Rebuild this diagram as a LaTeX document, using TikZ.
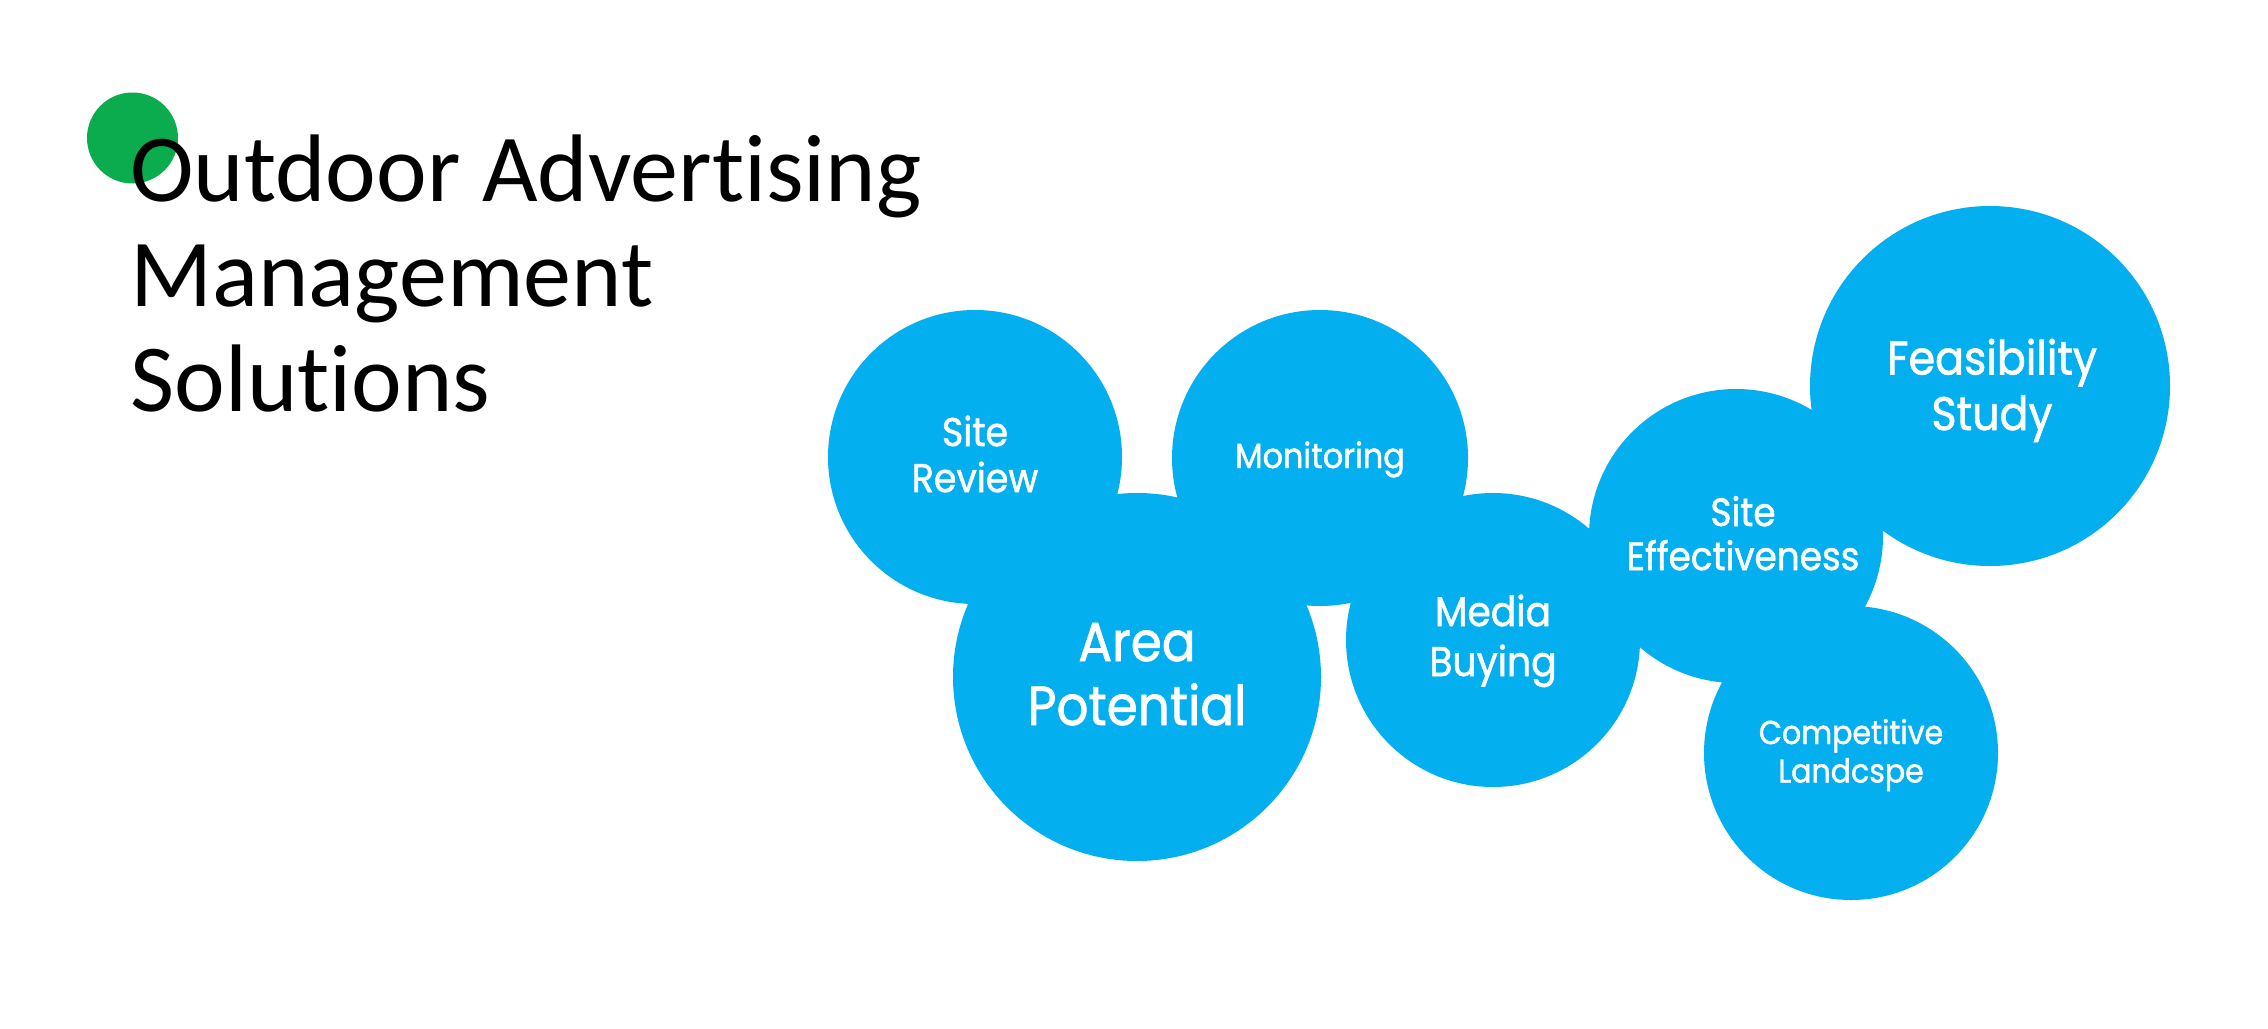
\documentclass[tikz,border=0pt]{standalone}
\usepackage{fontspec}
\setmainfont{Carlito}[Ligatures=NoCommon]
\newfontfamily\circfont{Poppins}[FakeStretch=0.91,FakeBold=1.3]
\definecolor{cblue}{HTML}{03AFEF}
\definecolor{cgreen}{HTML}{0BAC4E}
\tikzset{
  bub/.style={circle, fill=cblue, draw=none, inner sep=0pt, minimum size=#1 pt},
  ctext/.style={anchor=base, inner sep=0pt, text=white, font=\circfont\fontsize{#1}{#1}\selectfont},
  ttl/.style={anchor=base west, inner sep=0pt, text=black, font=\fontsize{48}{52}\selectfont}
}
\begin{document}
\begin{tikzpicture}[x=0.5pt,y=-0.5pt]
\useasboundingbox (0,0) rectangle (2268,1028);
\fill[white] (0,0) rectangle (2268,1028);
% title
\node[circle, fill=cgreen, inner sep=0pt, minimum size=45.5pt] (dot) at (132.5,138) {};
\node[ttl] (t1) at (130,201) {Outdoor Advertising};
\node[ttl] (t2) at (130,306) {Management};
\node[ttl] (t3) at (130,411) {Solutions};
% bubbles
\node[bub=147] (sr) at (975,457) {};
\node[bub=148] (mo) at (1320,458) {};
\node[bub=184] (ap) at (1137,677) {};
\node[bub=147] (mb) at (1493,640) {};
\node[bub=147] (se) at (1736,536) {};
\node[bub=180] (fs) at (1990,386) {};
\node[bub=147] (cl) at (1851,753) {};
% texts
\node[ctext=20] (sr1) at (975,446) {Site};
\node[ctext=20] (sr2) at (975,492) {Review};
\node[ctext=17.5] (mo1) at (1320,468) {Monitoring};
\node[ctext=27.5] (ap1) at (1137,661) {Area};
\node[ctext=27.5] (ap2) at (1137,725) {Potential};
\node[ctext=20.7] (mb1) at (1493,626) {Media};
\node[ctext=20.7] (mb2) at (1493,676) {Buying};
\node[ctext=19.7] (se1) at (1743,526) {Site};
\node[ctext=19.7] (se2) at (1743,570) {Effectiveness};
\node[ctext=23.5] (fs1) at (1992,374.5) {Feasibility};
\node[ctext=23.5] (fs2) at (1992,430) {Study};
\node[ctext=16.5] (cl1) at (1851,744) {Competitive};
\node[ctext=16.5] (cl2) at (1851,782.5) {Landcspe};
\end{tikzpicture}
\end{document}
